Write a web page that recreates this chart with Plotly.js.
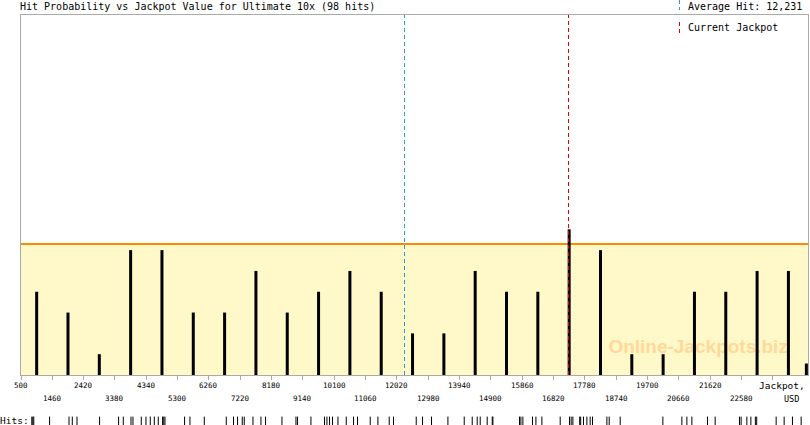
<!DOCTYPE html>
<html>
<head>
<meta charset="utf-8">
<script src="https://cdn.plot.ly/plotly-3.0.1.min.js"></script>
<style>
  html, body { margin: 0; padding: 0; background: #fff; }
  #chart { width: 810px; height: 425px; }
</style>
</head>
<body>
<div id="chart"></div>
<script>
// Jackpot bins (bin centres) and hits per bin
const binCenters = [980, 1940, 2900, 3860, 4820, 5780, 6740, 7700, 8660, 9620, 10580, 11540, 12500,
  13460, 14420, 15380, 16340, 17300, 18260, 19220, 20180, 21140, 22100, 23060, 24020, 24570];
const binHits = [4, 3, 1, 6, 6, 3, 3, 5, 3, 4, 5, 4, 2, 2, 5, 4, 4, 7, 6, 1, 1, 4, 4, 5, 5, 0.55];

// x axis ticks and their labels
const xTicks = [500, 1460, 2420, 3380, 4340, 5300, 6260, 7220, 8180, 9140, 10100, 11060, 12020,
  12980, 13940, 14900, 15860, 16820, 17780, 18740, 19700, 20660, 21620, 22580, 23540];
const xTickLabels = ["500", "1460", "2420", "3380", "4340", "5300", "6260", "7220", "8180", "9140",
  "10100", "11060", "12020", "12980", "13940", "14900", "15860", "16820", "17780", "18740",
  "19700", "20660", "21620", "22580"];

// individual hits (rug at the bottom)
const hitValues = [831, 862, 892, 1376, 1971, 2072, 2216, 2908, 3491, 3635, 3871, 3932, 4186, 4330,
  4462, 4585, 4707, 4839, 4876, 4912, 5513, 5678, 6117, 6791, 7014, 7137, 7281, 7342, 7609, 7854,
  7995, 8498, 8927, 8976, 9386, 9803, 9876, 9956, 10048, 10214, 10468, 10692, 10814, 11203, 11439,
  11785, 11917, 12613, 12806, 13082, 13584, 14084, 14329, 14482, 14574, 14788, 14942, 14963, 15778,
  15821, 15882, 16177, 16281, 16464, 17025, 17310, 17362, 17414, 17623, 17653, 17739, 17843, 17944,
  18015, 18456, 18527, 18864, 20172, 20754, 20908, 21061, 21539, 21775, 22520, 22571, 22746, 22869,
  23007, 23047, 23644, 23889, 24143, 24410];

const averageHit = 12231;
const currentJackpot = 17300;
const probLevel = 6.3;

const W = 810, H = 425;
const ML = 21, MR = 2, MT = 15, MB = 0;
const plotW = W - ML - MR, plotH = H - MT - MB;
const px2x = px => (px - ML) / plotW;
const py2y = py => (H - MB - py) / plotH;

const mono = "DejaVu Sans Mono";
const grey = "#aaaaaa";
const blue = "#2A9AD8", red = "#E00000";

// bars as vertical strokes so the watermark can sit behind them
const barX = [], barY = [];
binCenters.forEach((c, i) => {
  barX.push(c, c, null);
  barY.push(0, binHits[i], null);
});

const traces = [
  {
    x: [21254], y: [1.3], mode: "text", text: ["Online-Jackpots.biz"],
    textfont: { family: "Liberation Sans", size: 19, color: "#FFD89A", weight: "bold" },
    hoverinfo: "skip", cliponaxis: false
  },
  {
    x: barX, y: barY, mode: "lines",
    line: { color: "#000000", width: 3 },
    hoverinfo: "skip"
  },
  {
    x: hitValues, y: hitValues.map(() => 0.5), mode: "markers", yaxis: "y2",
    marker: { symbol: "line-ns", size: 7, line: { color: "#000000", width: 1 } },
    hoverinfo: "skip", cliponaxis: false
  }
];

const annotations = [];
xTickLabels.forEach((t, i) => {
  annotations.push({
    xref: "x", yref: "paper", x: xTicks[i], y: py2y(i % 2 === 0 ? 385.5 : 398.5),
    text: t, showarrow: false, xanchor: "center", yanchor: "middle",
    font: { family: mono, size: 7.5, color: "#000" }
  });
});
annotations.push(
  { xref: "paper", yref: "paper", x: px2x(807), y: py2y(385.5), text: "Jackpot,", showarrow: false,
    xanchor: "right", yanchor: "middle", font: { family: mono, size: 9.5, color: "#000" } },
  { xref: "paper", yref: "paper", x: px2x(791), y: py2y(398.5), text: "USD", showarrow: false,
    xanchor: "center", yanchor: "middle", font: { family: mono, size: 8.5, color: "#000" } },
  { xref: "paper", yref: "paper", x: px2x(18), y: py2y(7), text: "Hit Probability vs Jackpot Value for Ultimate 10x (98 hits)",
    showarrow: false, xanchor: "left", yanchor: "middle", font: { family: mono, size: 10, color: "#000" } },
  { xref: "paper", yref: "paper", x: px2x(686), y: py2y(7), text: "Average Hit: 12,231",
    showarrow: false, xanchor: "left", yanchor: "middle", font: { family: mono, size: 10, color: "#000" } },
  { xref: "paper", yref: "paper", x: px2x(686), y: py2y(27), text: "Current Jackpot",
    showarrow: false, xanchor: "left", yanchor: "middle", font: { family: mono, size: 10, color: "#000" } },
  { xref: "paper", yref: "paper", x: px2x(-2), y: py2y(420.5), text: "Hits:",
    showarrow: false, xanchor: "left", yanchor: "middle", font: { family: mono, size: 9.5, color: "#000" } }
);

// small pixel nudges keep the 1px dashed lines on whole pixels
const shapes = [
  { type: "rect", layer: "below", xref: "paper", yref: "y", x0: 0, x1: 1, y0: 0, y1: probLevel,
    fillcolor: "#FFF8C8", line: { width: 0 } },
  { type: "line", layer: "below", xref: "paper", yref: "y", x0: 0, x1: 1, y0: probLevel, y1: probLevel,
    line: { color: "#FF8A00", width: 2 } },
  { type: "line", layer: "above", xref: "x", yref: "y domain", xsizemode: "pixel", xanchor: averageHit,
    x0: 0.73, x1: 0.73, y0: 0, y1: 1,
    line: { color: blue, width: 1, dash: "4px,3px" } },
  { type: "line", layer: "above", xref: "x", yref: "y domain", xsizemode: "pixel", xanchor: currentJackpot,
    x0: -0.66, x1: -0.66, y0: 0, y1: 1,
    line: { color: red, width: 1, dash: "4px,3px" } },
  // legend markers
  { type: "line", xref: "paper", yref: "paper", x0: px2x(679.5), x1: px2x(679.5), y0: py2y(0), y1: py2y(10),
    line: { color: blue, width: 1, dash: "4px,3px" } },
  { type: "line", xref: "paper", yref: "paper", x0: px2x(679.5), x1: px2x(679.5), y0: py2y(22), y1: py2y(33),
    line: { color: red, width: 1, dash: "4px,3px" } }
];

const layout = {
  width: W, height: H,
  margin: { l: ML, r: MR, t: MT, b: MB, pad: 0 },
  paper_bgcolor: "#ffffff",
  plot_bgcolor: "#ffffff",
  showlegend: false,
  xaxis: {
    range: [500, 24620], anchor: "y",
    tickmode: "array", tickvals: xTicks, showticklabels: false,
    ticks: "outside", ticklen: 4, tickcolor: grey, tickwidth: 1,
    showline: true, linecolor: grey, linewidth: 1, mirror: true,
    showgrid: false, zeroline: false, fixedrange: true
  },
  yaxis: {
    domain: [50 / plotH, 1], range: [0, 17.3],
    showline: true, linecolor: grey, linewidth: 1, mirror: true,
    showticklabels: false, ticks: "", showgrid: false, zeroline: false, fixedrange: true
  },
  yaxis2: {
    domain: [0, 7 / plotH], range: [0, 1], anchor: "x", visible: false, fixedrange: true
  },
  shapes: shapes,
  annotations: annotations
};

Plotly.newPlot("chart", traces, layout, { displayModeBar: false, staticPlot: true });
</script>
</body>
</html>
